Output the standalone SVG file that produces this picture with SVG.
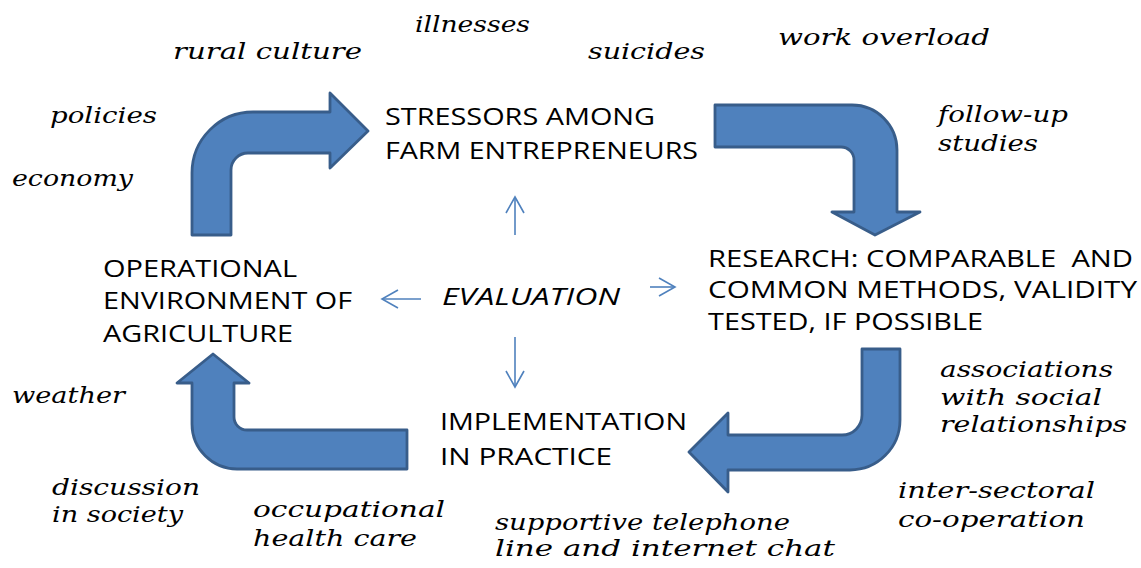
<svg xmlns="http://www.w3.org/2000/svg" width="1141" height="568" viewBox="0 0 1141 568">
<style>
.bg{fill:#ffffff}
.big{fill:#4f81bd;stroke:#385d8a;stroke-width:2.8;stroke-linejoin:round}
.thin{stroke:#4f81bd;stroke-width:1.6;fill:none}
.main{font-family:"Open Sans","Noto Sans",sans-serif;font-size:24px;fill:#000}
.eval{font-family:"Open Sans","Noto Sans",sans-serif;font-size:24px;font-style:italic;fill:#000}
.hand{font-family:"DejaVu Serif","Liberation Serif",serif;font-style:italic;font-size:23px;fill:#000}
</style>
<defs>
<marker id="chev" markerUnits="userSpaceOnUse" markerWidth="20" markerHeight="22" refX="17" refY="10" orient="auto">
<path d="M1,1 L17,10 L1,19" fill="none" stroke="#4f81bd" stroke-width="1.6"/>
</marker>
</defs>
<rect class="bg" x="0" y="0" width="1141" height="568"/>

<g id="cycle-arrows">
<path id="arrow-env-to-stressors" class="big" d="M192,235 L192,173 A61,61 0 0 1 253,112 L330,112 L330,93 L368,131 L330,168 L330,153 L248,153 A17,17 0 0 0 231,170 L231,235 Z"/>
<path id="arrow-stressors-to-research" class="big" d="M715,105 L852,105 A45,45 0 0 1 897,150 L897,212 L920,212 L875,235 L832,212 L854,212 L854,160 A13,13 0 0 0 841,147 L715,147 Z"/>
<path id="arrow-research-to-practice" class="big" d="M900,349 L900,420 A50,50 0 0 1 850,470 L728,470 L728,492 L689,452 L728,413 L728,435 L842,435 A20,20 0 0 0 862,415 L862,349 Z"/>
<path id="arrow-practice-to-env" class="big" d="M407,469 L237,469 A45,45 0 0 1 192,424 L192,383 L177,383 L213,354 L249,383 L234,383 L234,417 A13,13 0 0 0 247,430 L407,430 Z"/>
</g>

<g id="evaluation-connectors">
<line class="thin" x1="515" y1="235" x2="515" y2="197" marker-end="url(#chev)"/>
<line class="thin" x1="515" y1="337" x2="515" y2="387" marker-end="url(#chev)"/>
<line class="thin" x1="421" y1="299" x2="382" y2="299" marker-end="url(#chev)"/>
<line class="thin" x1="650" y1="287" x2="675" y2="287" marker-end="url(#chev)"/>
</g>

<g id="node-stressors">
<text class="main" x="385" y="125" textLength="270" lengthAdjust="spacingAndGlyphs">STRESSORS AMONG</text>
<text class="main" x="385" y="159" textLength="313" lengthAdjust="spacingAndGlyphs">FARM ENTREPRENEURS</text>
</g>
<g id="node-research">
<text class="main" x="708" y="267" textLength="425" lengthAdjust="spacingAndGlyphs" xml:space="preserve">RESEARCH: COMPARABLE  AND</text>
<text class="main" x="708" y="298" textLength="429" lengthAdjust="spacingAndGlyphs">COMMON METHODS, VALIDITY</text>
<text class="main" x="708" y="330" textLength="275" lengthAdjust="spacingAndGlyphs">TESTED, IF POSSIBLE</text>
</g>
<g id="node-practice">
<text class="main" x="440" y="430" textLength="247" lengthAdjust="spacingAndGlyphs">IMPLEMENTATION</text>
<text class="main" x="440" y="465" textLength="172" lengthAdjust="spacingAndGlyphs">IN PRACTICE</text>
</g>
<g id="node-environment">
<text class="main" x="103" y="277" textLength="194" lengthAdjust="spacingAndGlyphs">OPERATIONAL</text>
<text class="main" x="103" y="309" textLength="249" lengthAdjust="spacingAndGlyphs">ENVIRONMENT OF</text>
<text class="main" x="103" y="342" textLength="190" lengthAdjust="spacingAndGlyphs">AGRICULTURE</text>
</g>
<g id="node-evaluation">
<text class="eval" x="442" y="305" textLength="178" lengthAdjust="spacingAndGlyphs">EVALUATION</text>
</g>

<g id="annotations">
<text class="hand" x="415" y="32" textLength="115" lengthAdjust="spacingAndGlyphs">illnesses</text>
<text class="hand" x="173" y="59" textLength="189" lengthAdjust="spacingAndGlyphs">rural culture</text>
<text class="hand" x="588" y="59" textLength="117" lengthAdjust="spacingAndGlyphs">suicides</text>
<text class="hand" x="778" y="45" textLength="212" lengthAdjust="spacingAndGlyphs">work overload</text>
<text class="hand" x="50" y="123" textLength="107" lengthAdjust="spacingAndGlyphs">policies</text>
<text class="hand" x="12" y="186" textLength="121" lengthAdjust="spacingAndGlyphs">economy</text>
<text class="hand" x="938" y="122" textLength="130" lengthAdjust="spacingAndGlyphs">follow-up</text>
<text class="hand" x="938" y="151" textLength="100" lengthAdjust="spacingAndGlyphs">studies</text>
<text class="hand" x="940" y="377" textLength="173" lengthAdjust="spacingAndGlyphs">associations</text>
<text class="hand" x="940" y="405" textLength="162" lengthAdjust="spacingAndGlyphs">with social</text>
<text class="hand" x="940" y="432" textLength="187" lengthAdjust="spacingAndGlyphs">relationships</text>
<text class="hand" x="898" y="498" textLength="197" lengthAdjust="spacingAndGlyphs">inter-sectoral</text>
<text class="hand" x="898" y="527" textLength="187" lengthAdjust="spacingAndGlyphs">co-operation</text>
<text class="hand" x="12" y="403" textLength="113" lengthAdjust="spacingAndGlyphs">weather</text>
<text class="hand" x="52" y="495" textLength="148" lengthAdjust="spacingAndGlyphs">discussion</text>
<text class="hand" x="52" y="522" textLength="131" lengthAdjust="spacingAndGlyphs">in society</text>
<text class="hand" x="253" y="517" textLength="192" lengthAdjust="spacingAndGlyphs">occupational</text>
<text class="hand" x="253" y="546" textLength="164" lengthAdjust="spacingAndGlyphs">health care</text>
<text class="hand" x="495" y="530" textLength="295" lengthAdjust="spacingAndGlyphs">supportive telephone</text>
<text class="hand" x="495" y="556" textLength="340" lengthAdjust="spacingAndGlyphs">line and internet chat</text>
</g>
</svg>
